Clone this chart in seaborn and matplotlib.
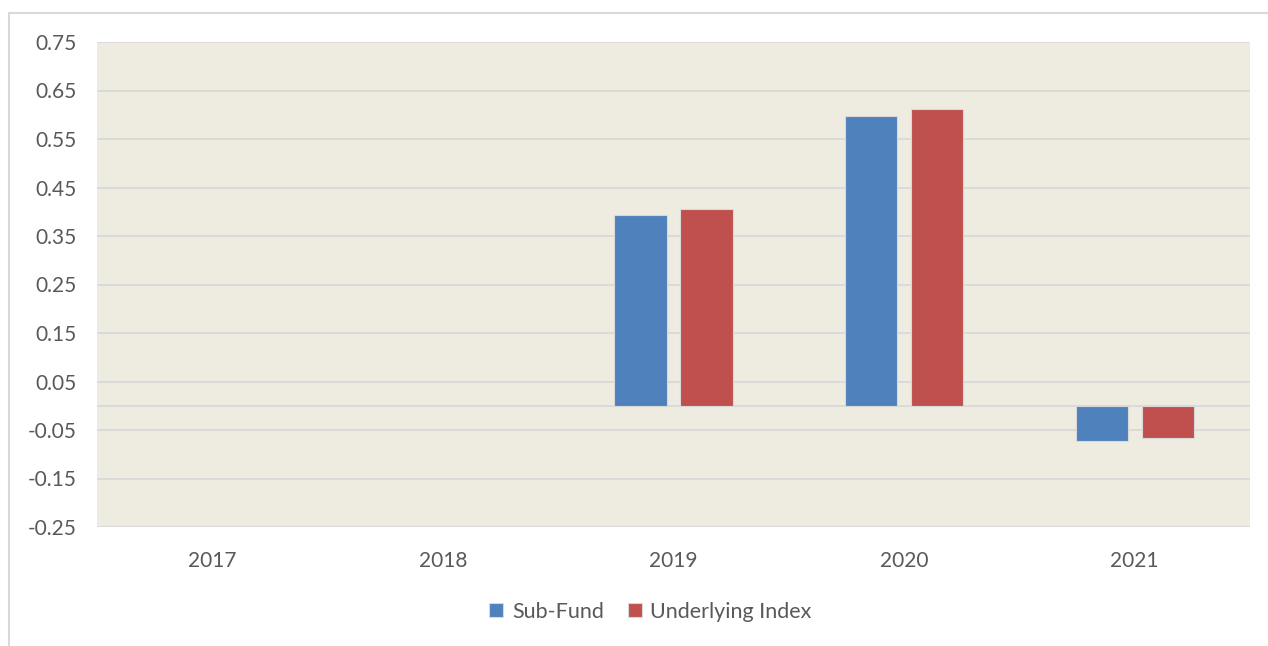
import numpy as np
import pandas as pd
import matplotlib
matplotlib.use("Agg")
import matplotlib.pyplot as plt
import seaborn as sns
from matplotlib.patches import Rectangle

years = ["2017", "2018", "2019", "2020", "2021"]
sub_fund = [np.nan, np.nan, 0.393, 0.597, -0.072]
underlying = [np.nan, np.nan, 0.406, 0.611, -0.067]
series_names = ["Sub-Fund", "Underlying Index"]
yticks = [-0.25, -0.15, -0.05, 0.05, 0.15, 0.25, 0.35, 0.45, 0.55, 0.65, 0.75]

df = pd.DataFrame({
    "Year": years * 2,
    "Series": [series_names[0]] * len(years) + [series_names[1]] * len(years),
    "Value": sub_fund + underlying,
})

sns.set_theme(style="white")
plt.rcParams["font.family"] = ["Lato", "DejaVu Sans"]

fig = plt.figure(figsize=(12.68, 6.46), dpi=100)
ax = fig.add_axes([97/1268, 1 - 527/646, (1250 - 97)/1268, (527 - 42)/646])
ax.set_facecolor("#EEEBE0")

palette = {series_names[0]: "#4F81BD", series_names[1]: "#C0504D"}
sns.barplot(data=df, x="Year", y="Value", hue="Series", order=years,
            hue_order=series_names, palette=palette, width=0.572, gap=0.21,
            edgecolor="#D9D9D9", linewidth=0.8, saturation=1, ax=ax,
            errorbar=None, zorder=3)

ax.set_ylim(-0.25, 0.75)
ax.set_yticks(yticks)
ax.set_yticklabels([f"{t:.2f}" for t in yticks])
ax.set_xlim(-0.5, len(years) - 0.5)
for t in yticks:
    ax.axhline(t, color="#D9D9D9", lw=1.3, zorder=1)
ax.axhline(0, color="#D9D9D9", lw=1.3, zorder=1)

for s in ax.spines.values():
    s.set_visible(False)
ax.tick_params(axis="both", length=0, labelsize=15, labelcolor="#595959")
ax.tick_params(axis="y", pad=15)
ax.tick_params(axis="x", pad=17)
ax.set_xlabel("")
ax.set_ylabel("")

leg = ax.legend(loc="center", bbox_to_anchor=(0.48, -0.175), ncol=2, frameon=False,
                fontsize=15.5, handlelength=0.65, handleheight=0.65, handletextpad=0.4,
                columnspacing=1.1, labelcolor="#595959")

fig.patches.append(Rectangle((9/1268, -0.1), 1.2, 1 - 13/646 + 0.1,
                             transform=fig.transFigure, fill=False,
                             edgecolor="#D9D9D9", lw=1.5, zorder=0))

fig.savefig("out.png", dpi=100)
